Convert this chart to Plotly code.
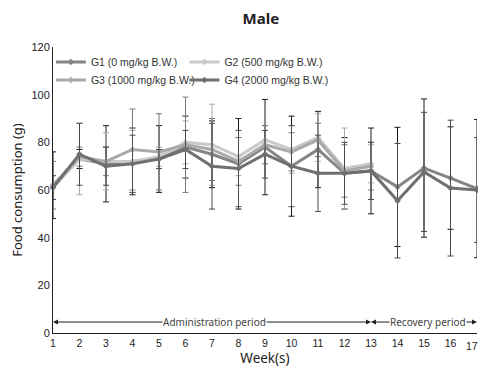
import plotly.graph_objects as go

weeks = list(range(1, 18))
tick_vals = list(range(1, 18))
y_ticks = [0, 20, 40, 60, 80, 100, 120]

series_names = ["G1 (0 mg/kg B.W.)", "G2 (500 mg/kg B.W.)",
                "G3 (1000 mg/kg B.W.)", "G4 (2000 mg/kg B.W.)"]

g1_mean = [62, 73, 71, 72, 73, 78, 75, 71, 78, 70, 77, 67, 68, 61.3, 69.2, 65, 60.6]
g2_mean = [61, 73, 72, 72, 74, 80, 79, 74, 81, 77, 82, 69, 71] + [None] * 4
g3_mean = [62, 74, 72, 77, 76, 79, 77, 72, 79, 76, 81, 68, 70] + [None] * 4
g4_mean = [61, 75, 70, 71, 73, 77, 70, 69, 75, 70, 67, 67, 68, 55.5, 67.6, 60.8, 60]

g1_sd = [14, 4, 16, 14, 14, 13, 14, 19, 20, 21, 16, 15, 18, 25, 29, 21.5, 29]
g2_sd = [5, 15, 12, 13, 4, 9, 17, 8, 6, 10, 10, 17, 8] + [None] * 4
g3_sd = [10, 4, 6, 17, 16, 20, 13, 10, 8, 8, 7, 11, 10] + [None] * 4
g4_sd = [5, 13, 8, 12, 4, 8, 18, 16, 10, 17, 16, 13, 12, 24, 25, 28.5, 22]

line_colors = ["#858585", "#c9c9c9", "#a9a9a9", "#6f6f6f"]
err_colors = ["#1a1a1a", "#a8a8a8", "#777777", "#4a4a4a"]
legend_ids = ["legend", "legend2", "legend3", "legend4"]

means = [g1_mean, g2_mean, g3_mean, g4_mean]
sds = [g1_sd, g2_sd, g3_sd, g4_sd]

fig = go.Figure()
for name, m, s, lc, ec, lg in zip(series_names, means, sds, line_colors, err_colors, legend_ids):
    fig.add_trace(go.Scatter(
        x=weeks, y=m, name=name, mode="lines+markers",
        line=dict(color=lc, width=3),
        marker=dict(color=lc, size=5, symbol="diamond"),
        error_y=dict(type="data", array=s, visible=True, color=ec,
                     thickness=1, width=3),
        connectgaps=False, cliponaxis=False, legend=lg,
    ))

tickfam = "Liberation Sans, Arial, sans-serif"

ann_y = 4.6
arrow = dict(axref="x", ayref="y", xref="x", yref="y", text="", showarrow=True,
             arrowhead=2, arrowsize=1, arrowwidth=1, arrowcolor="#222")
annotations = [
    dict(x=1, y=ann_y, ax=7, ay=ann_y, **arrow),
    dict(x=13, y=ann_y, ax=7, ay=ann_y, **arrow),
    dict(x=13, y=ann_y, ax=15, ay=ann_y, **arrow),
    dict(x=17, y=ann_y, ax=15, ay=ann_y, **arrow),
    dict(x=7.1, y=ann_y, xref="x", yref="y", text="Administration period",
         showarrow=False, bgcolor="white", borderpad=0,
         font=dict(size=10, color="#444", family="Noto Sans, sans-serif")),
    dict(x=15.15, y=ann_y, xref="x", yref="y", text="Recovery period",
         showarrow=False, bgcolor="white", borderpad=0,
         font=dict(size=10, color="#444", family="Noto Sans, sans-serif")),
    # last week label, nudged left so it stays inside the visible page
    dict(x=tick_vals[-1], y=0, xref="x", yref="paper", text=str(tick_vals[-1]),
         showarrow=False, xanchor="right", yanchor="top", xshift=3, yshift=-5,
         font=dict(size=10.5, color="#222", family=tickfam)),
]

leg_common = dict(orientation="h", xanchor="left", yanchor="middle",
                  font=dict(size=10.5, color="#333", family=tickfam),
                  bgcolor="rgba(0,0,0,0)", tracegroupgap=0, itemwidth=30)

# page has an 8px body margin: figure is placed at (8, 8); keep it inside the window
fig.update_layout(
    width=478, height=362,
    margin=dict(l=45, r=9, t=39, b=37, autoexpand=False),
    paper_bgcolor="white", plot_bgcolor="white",
    title=dict(text="<b>Male</b>", x=0.529, xanchor="center", y=1 - 11 / 362, yanchor="middle",
               font=dict(size=15, color="#222", family="Noto Sans, sans-serif")),
    showlegend=True,
    legend=dict(x=-0.005, y=0.9476, **leg_common),
    legend2=dict(x=0.31, y=0.9476, **leg_common),
    legend3=dict(x=-0.005, y=0.8846, **leg_common),
    legend4=dict(x=0.31, y=0.8846, **leg_common),
    annotations=annotations,
    xaxis=dict(range=[1, 17], tickmode="array", tickvals=tick_vals,
               ticktext=[str(v) for v in tick_vals[:-1]] + [""], automargin=False,
               ticklabeloverflow="allow",
               showgrid=False, zeroline=False, showline=True, linecolor="#222", linewidth=1,
               ticks="", tickfont=dict(size=10.5, color="#222", family=tickfam),
               title=dict(text="Week(s)", font=dict(size=13.5, color="#222", family="Noto Sans, sans-serif"), standoff=4)),
    yaxis=dict(range=[0, 120], tickmode="array", tickvals=y_ticks, automargin=False,
               showgrid=False, zeroline=False, showline=True, linecolor="#222", linewidth=1,
               ticks="", tickfont=dict(size=11, color="#222", family=tickfam),
               title=dict(text="Food consumption (g)", font=dict(size=13, color="#222", family="Noto Sans, sans-serif"), standoff=8)),
)

fig.write_html("out.html")
